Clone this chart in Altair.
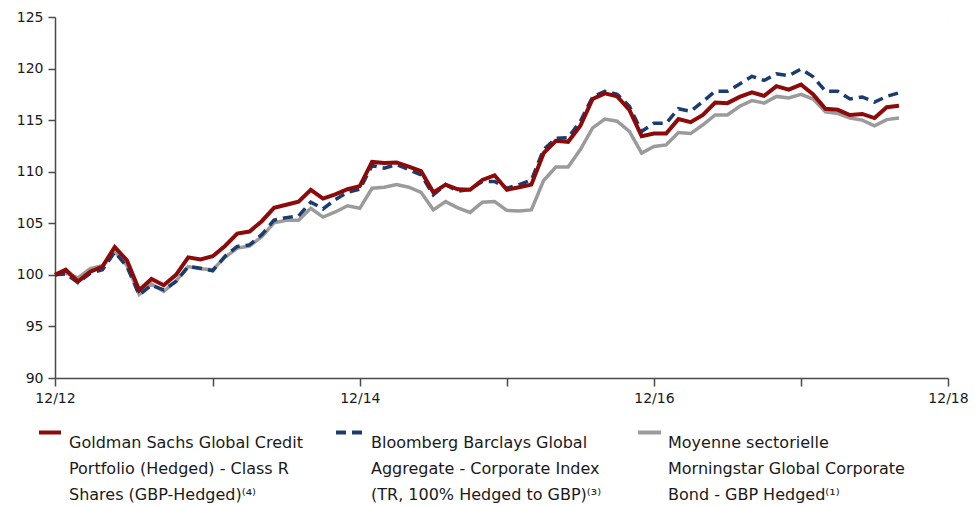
import altair as alt
import pandas as pd

# ---- data ----
months = [-0.873] + list(range(0, 69))  # months since 12/2012 (first point = start of series)

gs_credit = [100.0, 100.5, 99.35, 100.3, 100.8, 102.7, 101.4, 98.5, 99.6, 99.0,
             100.0, 101.7, 101.5, 101.8, 102.8, 104.0, 104.2, 105.2, 106.5, 106.8,
             107.1, 108.25, 107.4, 107.8, 108.3, 108.6, 110.95, 110.85, 110.9, 110.5,
             110.05, 108.0, 108.75, 108.3, 108.25, 109.2, 109.65, 108.25, 108.5, 108.75,
             111.8, 113.0, 112.9, 114.45, 117.05, 117.6, 117.3, 116.0, 113.45, 113.7,
             113.7, 115.1, 114.8, 115.5, 116.7, 116.65, 117.25, 117.7, 117.35, 118.3,
             117.95, 118.45, 117.5, 116.1, 116.0, 115.5, 115.6, 115.2, 116.25, 116.4]

bb_index = [100.0, 100.1, 99.25, 100.15, 100.5, 102.2, 100.8, 98.05, 99.0, 98.55,
            99.35, 100.8, 100.65, 100.4, 101.8, 102.75, 102.9, 103.9, 105.3, 105.55,
            105.7, 107.05, 106.4, 107.3, 108.0, 108.3, 110.6, 110.35, 110.7, 110.2,
            109.7, 107.75, 108.75, 108.1, 108.3, 109.05, 109.05, 108.4, 108.75, 109.2,
            112.15, 113.25, 113.3, 114.9, 117.25, 117.8, 117.5, 116.35, 113.9, 114.7,
            114.7, 116.1, 115.85, 116.8, 117.8, 117.8, 118.5, 119.25, 118.85, 119.5,
            119.3, 119.95, 119.2, 117.8, 117.8, 117.05, 117.25, 116.75, 117.3, 117.65]

ms_average = [100.0, 100.2, 99.7, 100.6, 100.9, 102.3, 100.9, 98.1, 99.1, 98.4,
              99.4, 100.8, 100.6, 100.5, 101.7, 102.6, 102.8, 103.7, 105.05, 105.3,
              105.3, 106.45, 105.6, 106.1, 106.7, 106.45, 108.4, 108.5, 108.75, 108.5,
              108.0, 106.3, 107.1, 106.5, 106.05, 107.05, 107.1, 106.25, 106.2, 106.3,
              109.15, 110.45, 110.45, 112.15, 114.25, 115.1, 114.9, 113.9, 111.8, 112.45,
              112.6, 113.8, 113.7, 114.55, 115.5, 115.5, 116.35, 116.9, 116.65, 117.3,
              117.15, 117.5, 117.05, 115.8, 115.65, 115.2, 115.0, 114.45, 115.05, 115.2]

series_names = ["Goldman Sachs", "Bloomberg Barclays", "Moyenne sectorielle"]
legend_labels = [
    "Goldman Sachs Global Credit\nPortfolio (Hedged) - Class R\nShares (GBP-Hedged)⁽⁴⁾",
    "Bloomberg Barclays Global\nAggregate - Corporate Index\n(TR, 100% Hedged to GBP)⁽³⁾",
    "Moyenne sectorielle\nMorningstar Global Corporate\nBond - GBP Hedged⁽¹⁾",
]
y_ticks = [90, 95, 100, 105, 110, 115, 120, 125]
x_tick_months = [-0.873, 12, 24, 36, 48, 60, 72]
x_tick_labels = ["12/12", "", "12/14", "", "12/16", "", "12/18"]

# ---- styling ----
FONT = "DejaVu Sans"
colors = ["#8c0a0a", "#1b3c6e", "#9b9b9b"]
W, H = 893, 361

rows = []
for name, vals in zip(series_names, [gs_credit, bb_index, ms_average]):
    for m, v in zip(months, vals):
        rows.append({"month": m, "value": v, "series": name})
df = pd.DataFrame(rows)

label_expr = " : ".join(
    f"datum.value == {v} ? '{l}'" for v, l in zip(x_tick_months, x_tick_labels)
) + " : ''"

x_enc = alt.X(
    "month:Q",
    scale=alt.Scale(domain=[x_tick_months[0], x_tick_months[-1]], nice=False, zero=False),
    axis=alt.Axis(values=x_tick_months, labelExpr=label_expr, title=None,
                  grid=True, gridColor="white", gridWidth=1.5,
                  tickSize=8, tickColor="#4a4a4a", domainColor="#4a4a4a", domainWidth=1.5,
                  tickWidth=1.5, labelFlush=False, labelOverlap=False,
                  labelFont=FONT, labelFontSize=14, labelColor="#1a1a1a", labelPadding=5),
)
y_enc = alt.Y(
    "value:Q",
    scale=alt.Scale(domain=[90, 125], nice=False, zero=False),
    axis=alt.Axis(values=y_ticks, title=None, grid=True, gridColor="white", gridWidth=1.5,
                  tickSize=7, tickColor="#4a4a4a", domainColor="#4a4a4a", domainWidth=1.5,
                  tickWidth=1.5, labelFlush=False, labelOverlap=False,
                  labelFont=FONT, labelFontSize=14, labelColor="#1a1a1a", labelPadding=5),
)

base = alt.Chart(df)
gray_line = base.transform_filter(alt.datum.series == series_names[2]).mark_line(
    color=colors[2], strokeWidth=3.5).encode(x=x_enc, y=y_enc)
blue_line = base.transform_filter(alt.datum.series == series_names[1]).mark_line(
    color=colors[1], strokeWidth=3.5, strokeDash=[10, 6]).encode(x=x_enc, y=y_enc)
red_line = base.transform_filter(alt.datum.series == series_names[0]).mark_line(
    color=colors[0], strokeWidth=4).encode(x=x_enc, y=y_enc)

# ---- legend (drawn below the plot) ----
leg_text_x = [14, 316, 613]
leg_sw_x = [(-16, 6), (281, 307), (583, 606)]
legend_layers = []
for i in range(3):
    ldf = pd.DataFrame({"label": [legend_labels[i]]})
    legend_layers.append(
        alt.Chart(ldf).mark_text(
            align="left", baseline="alphabetic", lineBreak="\n", lineHeight=26.4,
            font=FONT, fontSize=16, color="#1a1a1a",
        ).encode(text="label:N", x=alt.value(leg_text_x[i]), y=alt.value(430.5))
    )
    sw_kwargs = dict(color=colors[i], strokeWidth=4)
    if i == 1:
        sw_kwargs["strokeDash"] = [10, 6]
    legend_layers.append(
        alt.Chart(ldf).mark_rule(**sw_kwargs).encode(
            x=alt.value(leg_sw_x[i][0]), x2=alt.value(leg_sw_x[i][1]), y=alt.value(415.5))
    )

chart = alt.layer(gray_line, blue_line, red_line, *legend_layers).properties(
    width=W, height=H,
    autosize=alt.AutoSizeParams(type="none"),
    padding={"left": 47, "top": 9, "right": 23, "bottom": 128},
).configure_view(fill="#dae0ea", stroke=None).configure(background="white")

chart.save("out.html", embed_options={"renderer": "svg", "actions": False})
